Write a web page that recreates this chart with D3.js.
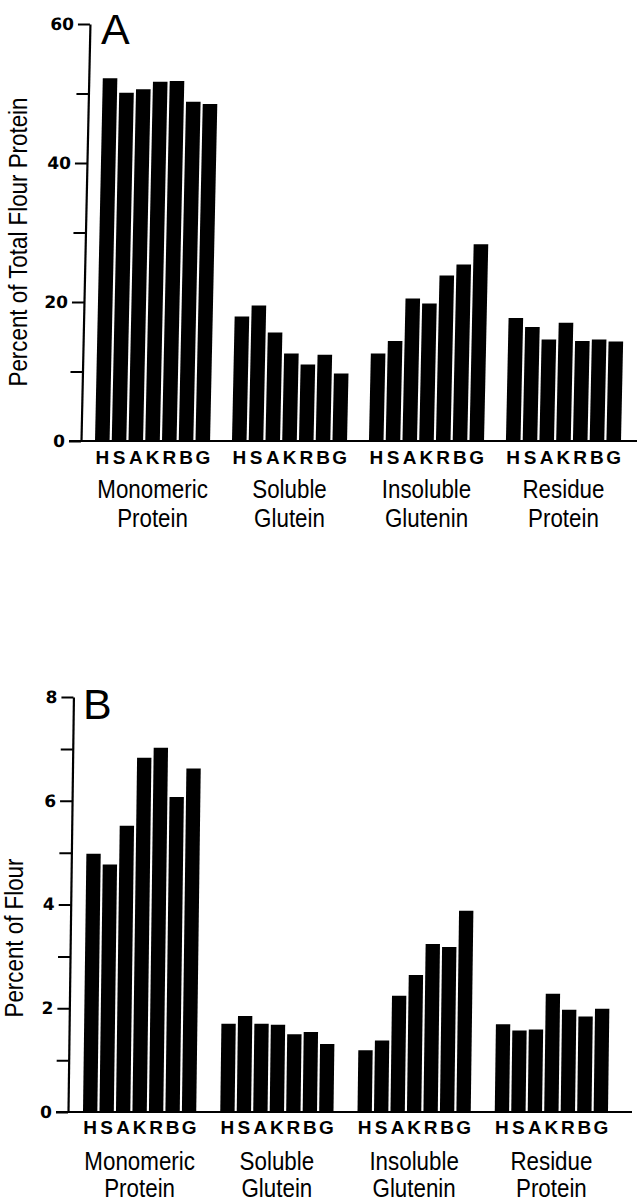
<!DOCTYPE html>
<html>
<head>
<meta charset="utf-8">
<script src="https://cdn.jsdelivr.net/npm/d3@7"></script>
<style>
  html, body { margin: 0; padding: 0; background: #fff; }
  svg { display: block; }
  .lab { font-family: "Liberation Sans", Arial, sans-serif; }
</style>
</head>
<body>
<svg id="chart" width="637" height="1201"></svg>
<script>
// ---------- data ----------
const cultivars = ["H", "S", "A", "K", "R", "B", "G"];
const categories = ["Monomeric Protein", "Soluble Glutein", "Insoluble Glutenin", "Residue Protein"];

// Panel A: percent of total flour protein
const monomericA = [52.2, 50.1, 50.6, 51.7, 51.8, 48.8, 48.5];
const solubleA   = [17.9, 19.5, 15.6, 12.6, 11.0, 12.4, 9.7];
const insolubleA = [12.6, 14.4, 20.5, 19.8, 23.8, 25.4, 28.3];
const residueA   = [17.7, 16.4, 14.6, 17.0, 14.4, 14.6, 14.3];

// Panel B: percent of flour
const monomericB = [4.98, 4.77, 5.52, 6.83, 7.02, 6.07, 6.62];
const solubleB   = [1.70, 1.85, 1.70, 1.68, 1.50, 1.54, 1.31];
const insolubleB = [1.19, 1.38, 2.24, 2.64, 3.24, 3.18, 3.88];
const residueB   = [1.69, 1.57, 1.59, 2.28, 1.97, 1.84, 1.99];

const ticksA = [0, 10, 20, 30, 40, 50, 60];
const labelledA = [0, 20, 40, 60];
const ticksB = [0, 1, 2, 3, 4, 5, 6, 7, 8];
const labelledB = [0, 2, 4, 6, 8];

const titleA = "Percent of Total Flour Protein";
const titleB = "Percent of Flour";

// ---------- drawing ----------
const svg = d3.select("#chart");
const NARROW = 0.86;

function panel(cfg) {
  const rows = [cfg.s1, cfg.s2, cfg.s3, cfg.s4];
  const table = [];
  categories.forEach((c, i) => cultivars.forEach((k, j) => table.push({cat: c, cv: k, v: rows[i][j]})));

  const y = d3.scaleLinear().domain(cfg.domain).range([cfg.y0, cfg.yTop]);
  const x = d3.scaleBand().domain(categories).range([cfg.x0, cfg.x1]).paddingInner(cfg.groupPad).paddingOuter(0);
  const xi = d3.scaleBand().domain(cultivars).range([0, x.bandwidth()]).paddingInner(0.13).paddingOuter(0);

  const g = svg.append("g")
    .attr("transform", `translate(0,${cfg.y0}) skewX(${-cfg.skew}) translate(0,${-cfg.y0})`);

  // bars
  g.append("g").selectAll("rect").data(table).join("rect")
    .attr("x", d => x(d.cat) + xi(d.cv))
    .attr("width", xi.bandwidth())
    .attr("y", d => y(d.v))
    .attr("height", d => y(0) - y(d.v))
    .attr("fill", "#000");

  // y axis
  const ax = d3.axisLeft(y).tickValues(cfg.ticks).tickSize(12).tickSizeOuter(0).tickPadding(4)
    .tickFormat(d => cfg.labelled.includes(d) ? d : "");
  const ag = g.append("g").attr("transform", `translate(${cfg.axisX},0)`).call(ax);
  ag.attr("font-size", null).attr("font-family", null);
  ag.select(".domain").attr("stroke-width", 2.2);
  ag.selectAll(".tick line").attr("stroke-width", 2);
  ag.selectAll(".tick text")
    .style("font-size", "17px").style("font-weight", "bold")
    .style("font-family", "'DejaVu Sans', sans-serif")
    .attr("fill", "#000");

  // x baseline
  g.append("line")
    .attr("x1", cfg.axisX - 12).attr("x2", cfg.baseEnd)
    .attr("y1", y(0)).attr("y2", y(0))
    .attr("stroke", "#000").attr("stroke-width", 2.2);

  // cultivar letters
  svg.append("g").selectAll("text").data(table).join("text")
    .attr("class", "lab")
    .attr("x", d => x(d.cat) + xi(d.cv) + xi.bandwidth() / 2)
    .attr("y", cfg.letterY)
    .attr("text-anchor", "middle")
    .attr("font-size", 19).attr("font-weight", "bold")
    .text(d => d.cv);

  // category labels (two lines, narrow)
  svg.append("g").selectAll("g").data(categories).join("g")
    .attr("transform", c => `translate(${x(c) + x.bandwidth() / 2},0) scale(${NARROW},1)`)
    .each(function (c) {
      const parts = c.split(" ");
      const t = d3.select(this);
      parts.forEach((p, i) => t.append("text")
        .attr("class", "lab")
        .attr("text-anchor", "middle")
        .attr("font-size", 26)
        .attr("x", 0)
        .attr("y", i === 0 ? cfg.cat1Y : cfg.cat2Y)
        .text(p));
    });

  // y title
  svg.append("text").attr("class", "lab")
    .attr("transform", `translate(${cfg.titleX},${cfg.titleY}) rotate(-90) scale(${NARROW},1)`)
    .attr("text-anchor", "middle")
    .attr("font-size", cfg.titleSize)
    .text(cfg.title);

  // panel letter
  svg.append("text").attr("class", "lab")
    .attr("x", cfg.letterX).attr("y", cfg.letterTop)
    .attr("font-size", 43)
    .text(cfg.panelLetter);
}

panel({
  s1: monomericA, s2: solubleA, s3: insolubleA, s4: residueA,
  domain: [0, 60], ticks: ticksA, labelled: labelledA,
  y0: 441, yTop: 24, x0: 95, x1: 621, groupPad: 0.16, skew: 1.23,
  axisX: 81, baseEnd: 637,
  letterY: 464, cat1Y: 498, cat2Y: 527,
  title: titleA, titleX: 27, titleY: 242, titleSize: 26,
  panelLetter: "A", letterX: 101, letterTop: 44
});

panel({
  s1: monomericB, s2: solubleB, s3: insolubleB, s4: residueB,
  domain: [0, 8], ticks: ticksB, labelled: labelledB,
  y0: 1112, yTop: 697, x0: 83, x1: 608, groupPad: 0.175, skew: 0.75,
  axisX: 68, baseEnd: 632,
  letterY: 1134, cat1Y: 1170, cat2Y: 1197,
  title: titleB, titleX: 23, titleY: 938, titleSize: 26,
  panelLetter: "B", letterX: 83, letterTop: 719
});
</script>
</body>
</html>
